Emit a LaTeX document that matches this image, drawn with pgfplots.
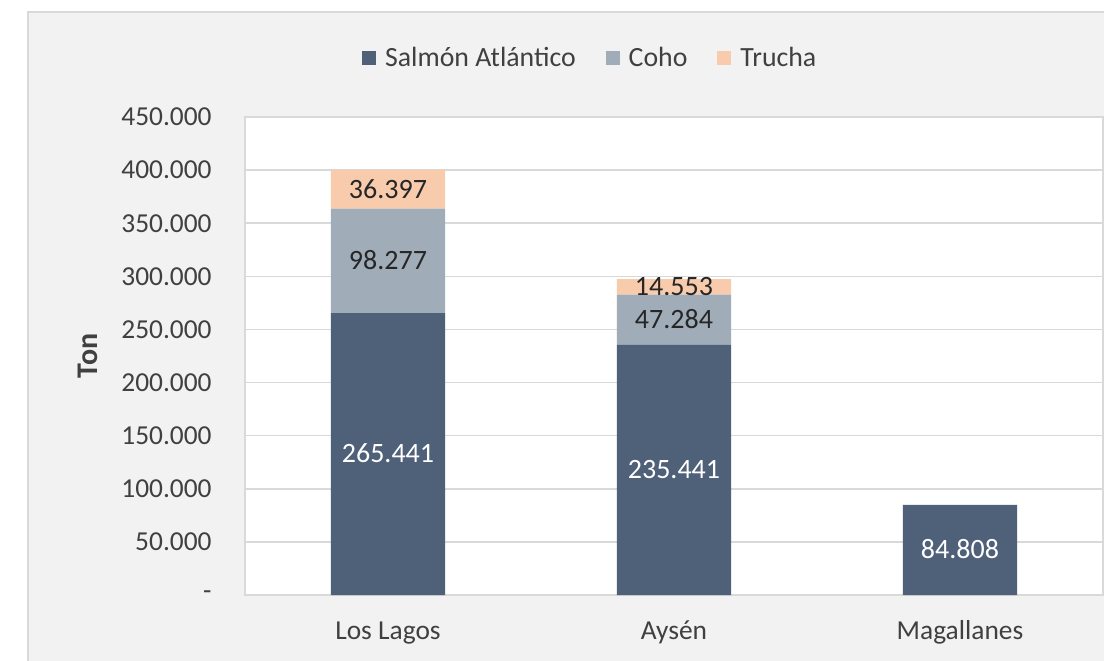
\documentclass[border=0pt]{standalone}
\usepackage{fontspec}
\setmainfont{Carlito}
\usepackage{pgfplots}
\usepackage{pgfplotstable}
\pgfplotsset{compat=1.18}
\definecolor{bgout}{HTML}{F2F2F2}
\definecolor{frame}{HTML}{D9D9D9}
\definecolor{salmon}{HTML}{4F6079}
\definecolor{coho}{HTML}{A0ADB9}
\definecolor{trucha}{HTML}{F8CBAD}
\definecolor{txt}{HTML}{404040}
\definecolor{lbl}{HTML}{262626}

% toneladas, en miles
\pgfplotstableread{
x y
0 265.441
1 235.441
2 84.808
}\salmon
\pgfplotstableread{
x y
0 98.277
1 47.284
2 0
}\coho
\pgfplotstableread{
x y
0 36.397
1 14.553
2 0
}\trucha

% value label, "-" for an empty segment
\newcommand\seglabel{%
  \pgfmathfloatifflags{\pgfplotspointmeta}{0}{-}{\pgfmathprintnumber[fixed,fixed zerofill,precision=3,assume math mode=true]{\pgfplotspointmeta}}}

\pgfplotsset{
  sqlegend/.style={legend image code/.code={\fill[##1] (0pt,-3.5pt) rectangle (7pt,3.5pt);}},
}

\begin{document}
\begin{tikzpicture}
\useasboundingbox (0,0) rectangle (552pt,330pt);
\fill[white] (0,0) rectangle (552pt,330pt);
\filldraw[fill=bgout, draw=frame, line width=0.75pt] (14pt,-2pt) rectangle (560pt,324pt);
\begin{axis}[
  at={(122.5pt,32.5pt)}, anchor=south west,
  scale only axis, width=429pt, height=239pt,
  ybar stacked, bar width=0.4,
  xmin=-0.5, xmax=2.5, ymin=0, ymax=450,
  xtick={0,1,2}, xticklabels={Los Lagos,Aysén,Magallanes},
  ytick={0,50,...,450},
  yticklabels={-,50.000,100.000,150.000,200.000,250.000,300.000,350.000,400.000,450.000},
  major tick length=0pt,
  axis background/.style={fill=white},
  axis line style={draw=frame, line width=0.75pt},
  ymajorgrids, grid style={draw=frame, line width=0.75pt},
  tick label style={font=\fontsize{13.7}{16}\selectfont, text=txt},
  yticklabel style={anchor=east, inner sep=0pt, xshift=-16.5pt},
  xticklabel style={anchor=base, inner sep=0pt, yshift=-22pt},
  ylabel={Ton},
  ylabel style={at={(axis description cs:-0.183,0.5)}, anchor=center, font=\bfseries\fontsize{15}{17}\selectfont, text=txt},
  legend style={at={(axis description cs:0.4035,1.123)}, anchor=center, draw=none, fill=none,
    font=\fontsize{13.9}{16}\selectfont, text=txt,
    /tikz/every odd column/.append style={column sep=2.5pt},
    /tikz/every even column/.append style={column sep=13pt}},
  legend columns=-1,
  point meta=explicit,
  nodes near coords={\seglabel},
  every node near coord/.append style={anchor=base, yshift=-4.4pt, inner sep=0pt, font=\fontsize{14}{16}\selectfont},
]
\addplot[fill=salmon, draw=none, sqlegend, every node near coord/.append style={text=white}] table[x=x,y=y,meta=y] {\salmon};
\addplot[fill=coho, draw=none, sqlegend, every node near coord/.append style={text=lbl}] table[x=x,y=y,meta=y] {\coho};
\addplot[fill=trucha, draw=none, sqlegend, every node near coord/.append style={text=lbl}] table[x=x,y=y,meta=y] {\trucha};
\legend{Salmón Atlántico,Coho,Trucha}
\end{axis}
\end{tikzpicture}
\end{document}
